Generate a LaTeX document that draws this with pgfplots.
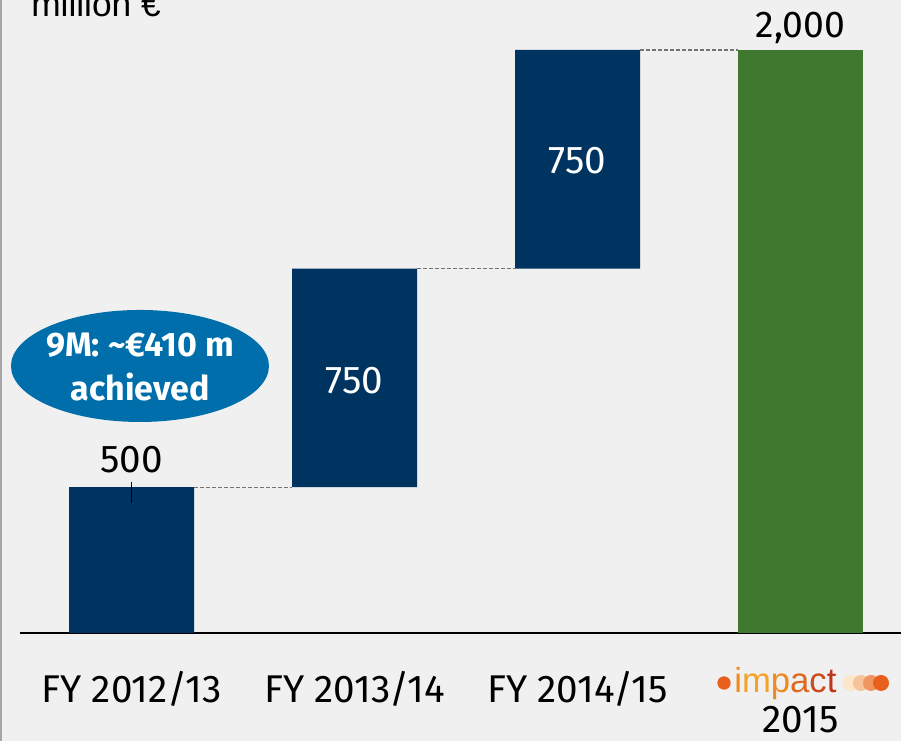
\documentclass[border=0pt]{standalone}
\usepackage{pgfplots}
\pgfplotsset{compat=1.18}
\usepackage{fontspec}
\setmainfont{Fira Sans}
\newfontfamily\arialf{Liberation Sans}
\definecolor{bg}{HTML}{F0F0F0}
\definecolor{navy}{HTML}{003460}
\definecolor{grn}{HTML}{41782F}
\definecolor{ell}{HTML}{006EAA}
\definecolor{orng}{HTML}{E8601C}
\definecolor{logoA}{HTML}{FDE6C8}
\definecolor{logoB}{HTML}{F7C49A}
\definecolor{logoC}{HTML}{EF9560}
\definecolor{li}{HTML}{F08A1C}
\definecolor{lm}{HTML}{F5A327}
\definecolor{lp}{HTML}{EE8A22}
\definecolor{la}{HTML}{DE6A1E}
\definecolor{lc}{HTML}{CC4A1C}
\definecolor{lt}{HTML}{BE3518}
\begin{document}
\begin{tikzpicture}
\fill[bg] (0,0) rectangle (675.75pt,555.75pt);
\useasboundingbox (0,0) rectangle (675.75pt,555.75pt);
\draw[black!35, line width=1.2pt] (0.6pt,0) -- (0.6pt,555.75pt);
\begin{axis}[
  at={(15pt,81pt)}, anchor=south west,
  scale only axis, width=661.5pt, height=474.75pt,
  xmin=-0.5, xmax=3.455, ymin=0, ymax=2171.5,
  axis x line*=bottom, axis y line=none,
  x axis line style={line width=1.5pt, black},
  xtick=\empty, ytick=\empty,
  ybar stacked, bar width=93.75pt,
  clip=false,
]
\addplot[draw=none, fill=none] coordinates {(0,0) (1,500) (2,1250) (3,0)};
\addplot[draw=none, fill=navy] coordinates {(0,500) (1,750) (2,750) (3,0)};
\addplot[draw=none, fill=grn] coordinates {(0,0) (1,0) (2,0) (3,2000)};
\end{axis}
\begin{axis}[
  at={(15pt,81pt)}, anchor=south west,
  scale only axis, width=661.5pt, height=474.75pt,
  xmin=-0.5, xmax=3.455, ymin=0, ymax=2171.5,
  hide axis, clip=false,
]
\addplot[black!55, dash pattern=on 3pt off 1.5pt, line width=1.1pt] coordinates {(0.28,500) (0.72,500)};
\addplot[black!55, dash pattern=on 3pt off 1.5pt, line width=1.1pt] coordinates {(1.28,1250) (1.72,1250)};
\addplot[black!55, dash pattern=on 3pt off 1.5pt, line width=1.1pt] coordinates {(2.28,2000) (2.72,2000)};
\draw[black, line width=0.8pt] (axis cs:0,518) -- (axis cs:0,446);
% value labels
\node[anchor=base, font=\fontsize{29}{32}\selectfont] at (axis cs:0,552) {500};
\node[anchor=base, white, font=\fontsize{29}{32}\selectfont] at (axis cs:1,823) {750};
\node[anchor=base, white, font=\fontsize{29}{32}\selectfont] at (axis cs:2,1575) {750};
\node[anchor=base, font=\fontsize{28}{32}\selectfont] at (axis cs:3,2044) {2,000};
% title
\node[anchor=base west, inner sep=0, font=\arialf\fontsize{26.5}{28}\selectfont] at (axis cs:-0.4507,2116) {million €};
% category labels
\node[anchor=base, font=\fontsize{29}{32}\selectfont] at (axis cs:0,-240) {FY 2012/13};
\node[anchor=base, font=\fontsize{29}{32}\selectfont] at (axis cs:1,-240) {FY 2013/14};
\node[anchor=base, font=\fontsize{29}{32}\selectfont] at (axis cs:2,-240) {FY 2014/15};
\node[anchor=base, inner sep=1pt, font=\fontsize{29}{32}\selectfont] at (axis cs:3,-343) {2015};
% impact logo
\fill[orng] (axis cs:2.657,-171.5) circle[radius=5pt];
\node[anchor=base west, inner sep=0, font=\arialf\fontsize{26}{28}\selectfont] at (axis cs:2.702,-205.8) {\color{li}i\color{lm}m\color{lp}p\color{la}a\color{lc}c\color{lt}t};
\fill[logoA] (axis cs:3.226,-171.5) circle[radius=6pt];
\fill[logoB] (axis cs:3.271,-171.5) circle[radius=6pt];
\fill[logoC] (axis cs:3.316,-171.5) circle[radius=6pt];
\fill[orng] (axis cs:3.361,-171.5) circle[radius=6pt];
% ellipse
\fill[ell] (axis cs:0.038,916) ellipse[x radius=96.75pt, y radius=42pt];
\node[white, font=\bfseries\fontsize{25.5}{28}\selectfont] at (axis cs:0.038,988) {9M: \textasciitilde€410 m};
\node[white, font=\bfseries\fontsize{25.5}{28}\selectfont] at (axis cs:0.038,844) {achieved};
\end{axis}
\end{tikzpicture}
\end{document}
